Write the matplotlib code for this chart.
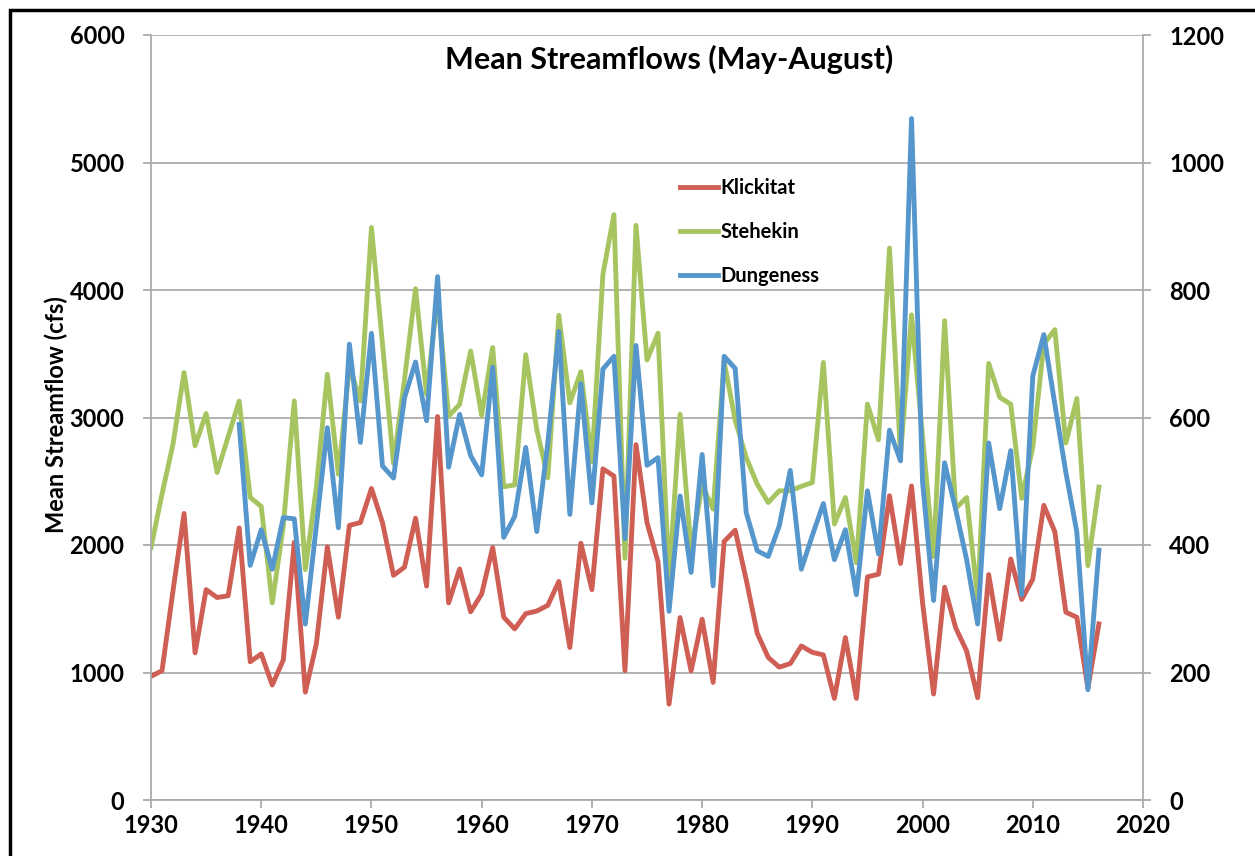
import numpy as np
import matplotlib.pyplot as plt
from matplotlib.patches import Rectangle

plt.rcParams['font.family'] = ['Lato', 'DejaVu Sans']
plt.rcParams['font.weight'] = 'bold'

years = list(range(1930, 2017))
dung_years = list(range(1938, 2017))

# Klickitat, cfs (left axis)
klickitat = [970, 1014, 1644, 2247, 1154, 1650, 1588, 1602, 2134, 1084,
             1146, 902, 1098, 2022, 846, 1224, 1986, 1434, 2154, 2176,
             2443, 2176, 1762, 1826, 2210, 1678, 3008, 1546, 1812, 1476,
             1616, 1980, 1434, 1342, 1462, 1482, 1527, 1714, 1196, 2014,
             1650, 2597, 2541, 1014, 2787, 2176, 1868, 752, 1431, 1013,
             1418, 922, 2028, 2116, 1728, 1308, 1118, 1042, 1070, 1208,
             1158, 1138, 797, 1274, 797, 1750, 1771, 2386, 1855, 2463,
             1548, 831, 1669, 1352, 1168, 802, 1768, 1259, 1890, 1573,
             1732, 2311, 2104, 1473, 1433, 878, 1381]

# Stehekin, cfs (left axis)
stehekin = [1980, 2400, 2793, 3353, 2779, 3031, 2569, 2849, 3129, 2373,
            2303, 1546, 2148, 3130, 1807, 2450, 3339, 2555, 3400, 3130,
            4490, 3580, 2640, 3300, 4010, 3183, 3950, 3010, 3103, 3521,
            3017, 3549, 2457, 2471, 3493, 2905, 2527, 3801, 3115, 3359,
            2653, 4123, 4591, 1896, 4507, 3451, 3661, 1720, 3026, 1954,
            2470, 2281, 3437, 2980, 2686, 2477, 2333, 2425, 2425, 2460,
            2490, 3432, 2165, 2372, 1860, 3105, 2825, 4329, 2700, 3805,
            2850, 1910, 3759, 2287, 2372, 1579, 3424, 3159, 3104, 2366,
            2768, 3576, 3689, 2799, 3149, 1838, 2454]

# Dungeness, cfs (right axis)
dungeness = [589, 368, 424, 362, 443, 441, 276, 430, 584, 427,
             715, 561, 732, 524, 505, 631, 687, 595, 821, 522,
             605, 540, 510, 679, 412, 445, 553, 421, 560, 735,
             448, 653, 466, 676, 696, 410, 713, 525, 537, 296,
             477, 357, 542, 336, 696, 677, 451, 391, 382, 430,
             517, 362, 415, 465, 377, 424, 322, 485, 386, 580,
             532, 1069, 499, 313, 529, 456, 377, 276, 560, 457,
             548, 322, 665, 730, 621, 514, 420, 173, 392]

left_ticks = [0, 1000, 2000, 3000, 4000, 5000, 6000]
right_ticks = [0, 200, 400, 600, 800, 1000, 1200]
x_ticks = [1930, 1940, 1950, 1960, 1970, 1980, 1990, 2000, 2010, 2020]

red = '#cf5e55'
green = '#a6c560'
blue = '#5596cc'
grey = '#ababab'

fig = plt.figure(figsize=(12.55, 8.56), dpi=100)
ax = fig.add_axes([151/1255, 1-800/856, (1143-151)/1255, (800-35)/856])
ax2 = ax.twinx()

l1, = ax.plot(years, klickitat, color=red, lw=3.5, label='Klickitat')
l2, = ax.plot(years, stehekin, color=green, lw=3.5, label='Stehekin')
l3, = ax2.plot(dung_years, dungeness, color=blue, lw=3.5, label='Dungeness')

ax.set_xlim(1930, 2020)
ax.set_ylim(0, 6000)
ax2.set_ylim(0, 1200)
ax.set_xticks(x_ticks)
ax.set_yticks(left_ticks)
ax2.set_yticks(right_ticks)

ax.grid(axis='y', color=grey, lw=1.3)
ax.set_axisbelow(True)

for a in (ax, ax2):
    for s in a.spines.values():
        s.set_visible(False)
    a.tick_params(labelsize=17, color=grey, length=6, width=1.3, direction='out')
ax.spines['left'].set_visible(True)
ax.spines['left'].set_color(grey)
ax.spines['left'].set_linewidth(1.3)
ax.spines['bottom'].set_visible(True)
ax.spines['bottom'].set_color(grey)
ax.spines['bottom'].set_linewidth(1.3)
ax2.spines['right'].set_visible(True)
ax2.spines['right'].set_color(grey)
ax2.spines['right'].set_linewidth(1.3)
ax.tick_params(axis='y', pad=13)
ax.tick_params(axis='x', pad=4)
ax2.tick_params(axis='y', pad=13)
for lab in ax.get_xticklabels() + ax.get_yticklabels() + ax2.get_yticklabels():
    lab.set_fontweight('bold')

fig.text(669/1255, 1-59/856, 'Mean Streamflows (May-August)', fontsize=22,
         fontweight='bold', ha='center', va='center')
fig.text(56/1255, 1-415/856, 'Mean Streamflow (cfs)', fontsize=17,
         fontweight='bold', rotation=90, ha='center', va='center')

ax2.legend(handles=[l1, l2, l3], loc='upper left',
           bbox_to_anchor=(680/1255, 1-178/856), bbox_transform=fig.transFigure,
           frameon=False, handlelength=1.9, handletextpad=0.1,
           labelspacing=1.2, borderpad=0, borderaxespad=0,
           prop={'weight': 'bold', 'size': 14.5})

fig.patches.append(Rectangle((10/1255, -0.1), 1.2, 1-10/856+0.1, fill=False,
                             edgecolor='black', lw=2.5, transform=fig.transFigure,
                             figure=fig))

fig.savefig('out.png', dpi=100)
